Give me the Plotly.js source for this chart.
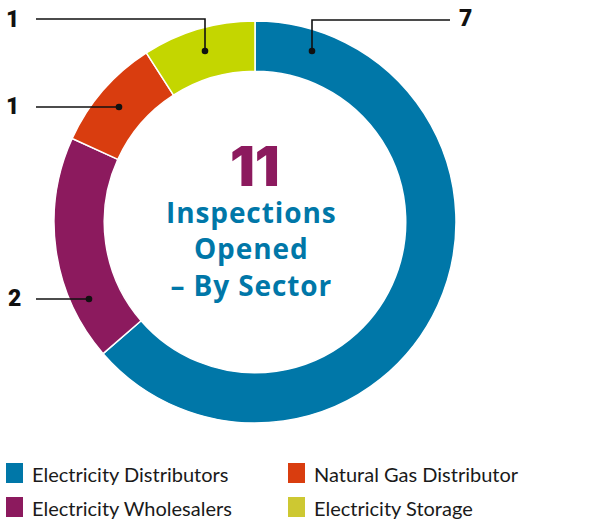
<!DOCTYPE html>
<html><head><meta charset="utf-8">
<script src="https://cdn.plot.ly/plotly-3.0.1.min.js"></script>
<style>html,body{margin:0;padding:0;background:#fff}#chart{width:600px;height:524px}</style>
</head><body><div id="chart"></div>
<script>
var categories = ["Electricity Distributors", "Electricity Wholesalers", "Natural Gas Distributor", "Electricity Storage"];
var values = [7, 2, 1, 1];
var sliceColors = ["#0077a8", "#8c1a5e", "#d93d0f", "#c4d600"];
var legendColors = ["#0077a8", "#8c1a5e", "#d93d0f", "#cdc832"];
var totalLabel = "11";
var centerLines = ["Inspections", "Opened", "– By Sector"];

var W = 600, H = 524;
var cx = 255, cy = 222, rOut = 201;
function px(x){return x/W;}
function py(y){return 1 - y/H;}

var callouts = [
  {i:0, lx:466, ly:19, side:"right", x0:312, y0:20, x1:450, dx:312, dy:51},
  {i:3, lx:12, ly:20, side:"left", x0:36, y0:19, x1:205, dx:205, dy:51},
  {i:2, lx:12, ly:106, side:"left", x0:36, y0:107, x1:119, dx:119, dy:107},
  {i:1, lx:14, ly:298, side:"left", x0:36, y0:299, x1:89, dx:89, dy:299}
];

var shapes = [], annotations = [];
callouts.forEach(function(c){
  var pathStr;
  if (c.side === "left") {
    pathStr = "M"+px(c.x0)+","+py(c.y0)+" L"+px(c.x1)+","+py(c.y0)+" L"+px(c.dx)+","+py(c.dy);
  } else {
    pathStr = "M"+px(c.x1)+","+py(c.y0)+" L"+px(c.x0)+","+py(c.y0)+" L"+px(c.dx)+","+py(c.dy);
  }
  shapes.push({type:"path", xref:"paper", yref:"paper", path:pathStr, line:{color:"#111", width:1.6}});
  shapes.push({type:"circle", xref:"paper", yref:"paper",
    x0:px(c.dx-3.3), x1:px(c.dx+3.3), y0:py(c.dy+3.3), y1:py(c.dy-3.3),
    fillcolor:"#111", line:{width:0}});
  annotations.push({xref:"paper", yref:"paper", x:px(c.lx), y:py(c.ly), xanchor:"center", yanchor:"middle",
    text:String(values[c.i]), showarrow:false, font:{family:"Roboto", size:23, color:"#111", weight:900}});
});

annotations.push({xref:"paper", yref:"paper", x:px(255), y:py(166), xanchor:"center", yanchor:"middle",
  text:totalLabel, showarrow:false, font:{family:"Inter", size:55, color:"#8c1a5e", weight:900}});
annotations.push({xref:"paper", yref:"paper", x:px(251), y:py(248), xanchor:"center", yanchor:"middle", align:"center",
  text:centerLines.map(function(t){return '<span style="letter-spacing:0.9px">'+t+'</span>';}).join("<br>"),
  showarrow:false, font:{family:"Open Sans", size:28, color:"#0077a8", weight:700}});

var legPos = [[6,463],[6,497],[288,463],[288,497]];
categories.forEach(function(cat, i){
  var p = legPos[i];
  shapes.push({type:"rect", xref:"paper", yref:"paper", x0:px(p[0]), x1:px(p[0]+17), y0:py(p[1]+20), y1:py(p[1]),
    fillcolor:legendColors[i], line:{width:0}});
  annotations.push({xref:"paper", yref:"paper", x:px(p[0]+24), y:py(p[1]+11), xanchor:"left", yanchor:"middle",
    text:cat, showarrow:false, font:{family:"Lato", size:20, color:"#1a1a1a"}});
});

var trace = {
  type:"pie", values:values, labels:categories, sort:false, direction:"clockwise", rotation:0,
  hole:0.75, marker:{colors:sliceColors, line:{color:"#ffffff", width:1.5}},
  textinfo:"none", hoverinfo:"none", showlegend:false,
  domain:{x:[px(cx-rOut), px(cx+rOut)], y:[py(cy+rOut), py(cy-rOut)]}
};

Plotly.newPlot("chart", [trace], {
  width:W, height:H, margin:{l:0,r:0,t:0,b:0}, paper_bgcolor:"#fff",
  showlegend:false, shapes:shapes, annotations:annotations
}, {displayModeBar:false, staticPlot:true});
</script></body></html>
